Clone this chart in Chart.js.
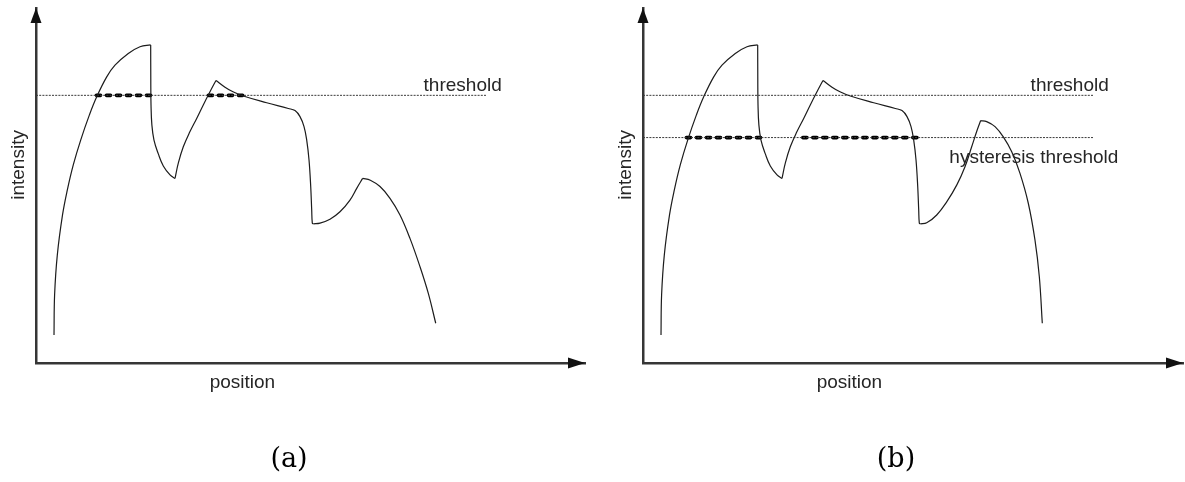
<!DOCTYPE html>
<html>
<head>
<meta charset="utf-8">
<script src="https://cdn.jsdelivr.net/npm/chart.js@4.4.1/dist/chart.umd.min.js"></script>
<style>
  html, body { margin: 0; padding: 0; background: #fff; }
  #wrap { position: relative; width: 1185px; height: 482px; overflow: hidden; }
  .panel { position: absolute; top: 0; height: 482px; }
</style>
</head>
<body>
<div id="wrap">
  <div class="panel" style="left:0;width:600px"><canvas id="chartA" width="600" height="482"></canvas></div>
  <div class="panel" style="left:600px;width:585px"><canvas id="chartB" width="585" height="482"></canvas></div>
</div>
<script>
// Intensity profile along position: rising edge, first two peaks and the drop (same in both panels)
const profileHead = [
  [3.28, 7.9], [3.39, 19.2], [3.88, 30.4], [4.83, 41.7], [5.70, 48.7], [6.79, 55.8],
  [8.14, 62.8], [9.73, 69.9], [11.06, 75.0], [12.88, 80.6], [14.39, 83.9],
  [16.81, 87.2], [18.94, 89.1], [20.89, 89.6],
  [20.91, 79.7], [20.95, 72.7], [21.11, 67.0], [21.49, 62.8], [22.28, 58.9],
  [23.19, 55.5], [24.41, 53.0], [25.32, 52.0],
  [25.92, 56.3], [26.83, 60.9], [28.05, 65.2], [29.27, 68.9], [30.47, 72.7],
  [31.69, 76.4], [32.79, 79.6],
  [34.43, 77.7], [35.88, 76.4], [37.76, 75.2], [42.02, 73.3], [45.96, 71.7],
  [47.18, 71.1], [48.09, 69.4], [48.82, 66.6], [49.31, 62.8], [49.73, 57.2],
  [50.04, 49.7], [50.22, 43.1], [50.33, 39.4], [50.51, 39.2]
];
// Remaining part of the profile in panel (a)
const profileTailA = [
  [50.51, 39.2], [51.73, 39.4], [53.55, 40.5], [55.37, 42.6], [57.19, 45.9],
  [58.42, 49.2], [59.50, 52.0],
  [60.90, 51.5], [62.66, 49.7], [64.48, 46.4], [66.30, 41.7], [68.12, 35.1],
  [69.95, 27.1], [71.46, 19.6], [72.81, 11.2]
];
// Remaining part of the profile in panel (b)
const profileTailB = [
  [50.51, 39.2], [51.68, 39.5], [53.50, 41.7], [55.32, 45.4], [57.14, 50.1],
  [58.65, 55.3], [59.87, 60.9], [60.78, 65.2], [61.51, 68.3],
  [62.60, 68.0], [64.12, 66.6], [65.63, 63.7], [67.16, 59.5], [68.67, 53.4],
  [70.18, 45.0], [71.40, 34.6], [72.19, 24.3], [72.73, 11.2]
];
// Threshold levels and the extent of their reference lines
const thresholdLevel = 75.4;
const hysteresisLevel = 63.5;
const levelLineEnd = 82.1;
// Position ranges accepted as edges (thick dashes)
const spansAboveThreshold = [[11.0, 21.0], [31.4, 38.1]];
const spansAboveHysteresis = [[7.9, 22.0], [29.1, 50.9]];
// Texts
const axisTitles = { x: 'position', y: 'intensity' };
const levelNames = { threshold: 'threshold', hysteresis: 'hysteresis threshold' };
const captions = ['(a)', '(b)'];

const INK = '#1c1c1c';
const TEXT = '#262626';
const SANS = '"Liberation Sans", Arial, sans-serif';

function toPoints(arr) { return arr.map(([x, y]) => ({ x, y })); }

// Split a profile at its local extrema so that peaks and troughs stay sharp
function splitAtExtrema(pts) {
  const pieces = [];
  let start = 0;
  for (let i = 1; i < pts.length - 1; i++) {
    const a = pts[i].y - pts[i - 1].y;
    const b = pts[i + 1].y - pts[i].y;
    if (a * b < 0) { pieces.push(pts.slice(start, i + 1)); start = i; }
  }
  pieces.push(pts.slice(start));
  return pieces;
}

function curveDatasets(profile) {
  return splitAtExtrema(toPoints(profile)).map(piece => ({
    data: piece,
    borderColor: INK,
    borderWidth: 1.2,
    tension: 0.4,
    capBezierPoints: false,
    pointRadius: 0,
    fill: false
  }));
}

function levelLine(level) {
  return {
    data: [{ x: 0, y: level }, { x: levelLineEnd, y: level }],
    borderColor: '#3a3a3a',
    borderWidth: 1,
    borderDash: [2, 1.2],
    pointRadius: 0,
    tension: 0,
    fill: false
  };
}

function spanDatasets(spans, level) {
  return spans.map(([a, b]) => ({
    data: [{ x: a, y: level }, { x: b, y: level }],
    borderColor: '#000',
    borderWidth: 3.6,
    borderDash: [4.2, 5.8],
    borderCapStyle: 'round',
    pointRadius: 0,
    tension: 0,
    fill: false
  }));
}

// Arrowheads on both axes plus the free text of each panel
const decorations = {
  id: 'decorations',
  afterDraw(chart, args, opts) {
    const { ctx, chartArea } = chart;
    const xs = chart.scales.x, ys = chart.scales.y;
    const x0 = xs.getPixelForValue(xs.min);
    const y0 = ys.getPixelForValue(ys.min);
    const xEnd = xs.getPixelForValue(xs.max);
    const yEnd = ys.getPixelForValue(ys.max);
    ctx.save();
    ctx.fillStyle = '#111';
    // y arrow
    ctx.beginPath();
    ctx.moveTo(x0, yEnd);
    ctx.lineTo(x0 - 5.5, yEnd + 15);
    ctx.lineTo(x0 + 5.5, yEnd + 15);
    ctx.closePath();
    ctx.fill();
    // x arrow
    ctx.beginPath();
    ctx.moveTo(xEnd, y0);
    ctx.lineTo(xEnd - 17, y0 - 5.5);
    ctx.lineTo(xEnd - 17, y0 + 5.5);
    ctx.closePath();
    ctx.fill();

    ctx.fillStyle = TEXT;
    ctx.font = '19px ' + SANS;
    ctx.textBaseline = 'alphabetic';
    // axis titles
    ctx.textAlign = 'center';
    ctx.fillText(axisTitles.x, xs.getPixelForValue(37.6), y0 + 25);
    ctx.save();
    ctx.translate(x0 - 12.5, ys.getPixelForValue(55.8));
    ctx.rotate(-Math.PI / 2);
    ctx.fillText(axisTitles.y, 0, 0);
    ctx.restore();
    // level names
    ctx.textAlign = 'left';
    ctx.fillText(levelNames.threshold, xs.getPixelForValue(70.6), ys.getPixelForValue(thresholdLevel) - 4.5);
    if (opts.hysteresis) {
      ctx.fillText(levelNames.hysteresis, xs.getPixelForValue(55.8), ys.getPixelForValue(hysteresisLevel) + 25.6);
    }
    // caption
    ctx.fillStyle = '#000';
    ctx.font = '27px "DejaVu Serif", serif';
    ctx.textAlign = 'center';
    ctx.fillText(opts.caption, chartArea.left + 253, y0 + 103.5);
    ctx.restore();
  }
};

function axisScale(max, horizontal) {
  return {
    type: 'linear',
    min: 0,
    max: max,
    grid: { display: false, drawTicks: false },
    ticks: { display: false },
    title: { display: false },
    border: { display: true, width: 2.5, color: '#363636' },
    afterFit(scale) { if (horizontal) scale.height = 0; else scale.width = 0; }
  };
}

function buildPanel(canvasId, cfg) {
  const datasets = [
    ...curveDatasets(cfg.profile),
    ...cfg.levels.map(levelLine),
    ...spanDatasets(cfg.spans, cfg.spanLevel)
  ];
  return new Chart(document.getElementById(canvasId), {
    type: 'line',
    data: { datasets },
    options: {
      responsive: false,
      animation: false,
      events: [],
      layout: { padding: cfg.padding },
      scales: { x: axisScale(cfg.xMax, true), y: axisScale(100, false) },
      plugins: {
        legend: { display: false },
        tooltip: { enabled: false },
        decorations: { caption: cfg.caption, hysteresis: cfg.hysteresis }
      }
    },
    plugins: [decorations]
  });
}

buildPanel('chartA', {
  profile: profileHead.concat(profileTailA.slice(1)),
  levels: [thresholdLevel],
  spans: spansAboveThreshold,
  spanLevel: thresholdLevel,
  xMax: 100,
  padding: { left: 36, right: 15, top: 8, bottom: 119 },
  caption: captions[0],
  hysteresis: false
});

buildPanel('chartB', {
  profile: profileHead.concat(profileTailB.slice(1)),
  levels: [thresholdLevel, hysteresisLevel],
  spans: spansAboveHysteresis,
  spanLevel: hysteresisLevel,
  xMax: 98.36,
  padding: { left: 43, right: 2, top: 8, bottom: 119 },
  caption: captions[1],
  hysteresis: true
});
</script>
</body>
</html>
